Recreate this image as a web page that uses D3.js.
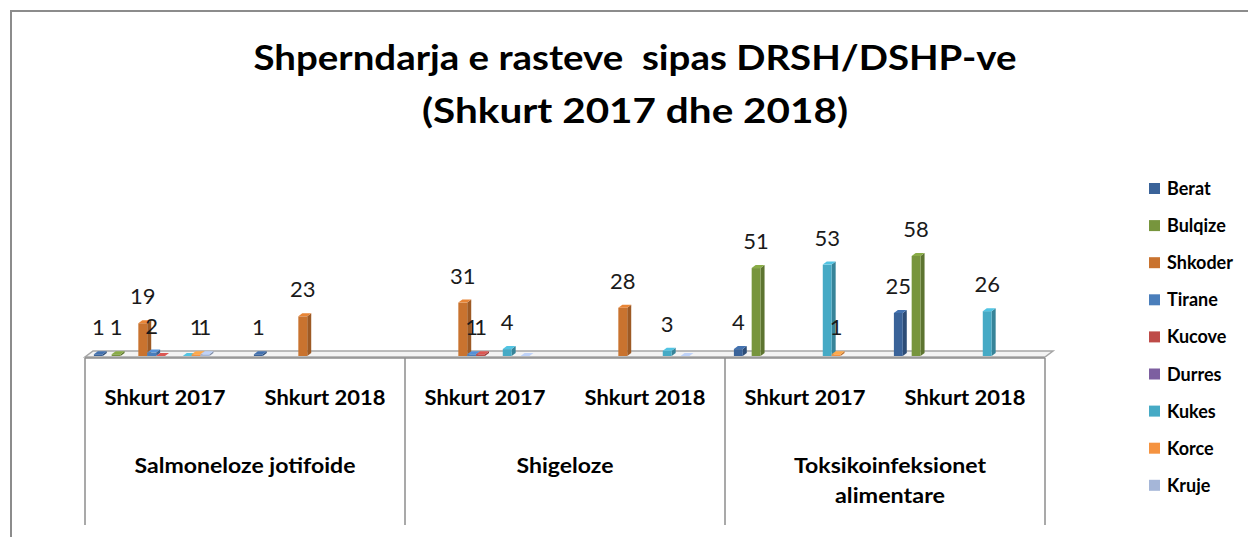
<!DOCTYPE html>
<html>
<head>
<meta charset="utf-8">
<script src="https://cdn.jsdelivr.net/npm/d3@7"></script>
<style>
  html, body { margin: 0; padding: 0; background: #fff; }
  svg { display: block; }
  text { white-space: pre; }
</style>
</head>
<body>
<svg id="chart" width="1248" height="537"></svg>
<script>
// ---------------- DATA ----------------
const titleLines = ["Shperndarja e rasteve  sipas DRSH/DSHP-ve", "(Shkurt 2017 dhe 2018)"];
const diseases = ["Salmoneloze jotifoide", "Shigeloze", "Toksikoinfeksionet alimentare"];
const periods = ["Shkurt 2017", "Shkurt 2018"];
const seriesNames = ["Berat", "Bulqize", "Shkoder", "Tirane", "Kucove", "Durres", "Kukes", "Korce", "Kruje"];
const seriesColors = ["#3A6399", "#77953D", "#C9732F", "#4A7EBB", "#BE4B48", "#7D5FA0", "#46AAC5", "#F59340", "#A5B6D8"];
// values per sub-category: [Salm 2017, Salm 2018, Shig 2017, Shig 2018, Toks 2017, Toks 2018]; null = no bar
const Berat   = [1,    1,    null, null, 4,    25];
const Bulqize = [1,    null, null, null, 51,   58];
const Shkoder = [19,   23,   31,   28,   null, null];
const Tirane  = [2,    null, 1,    null, null, null];
const Kucove  = [0,    null, 1,    null, null, null];
const Durres  = [null, null, null, null, null, null];
const Kukes   = [0,    null, 4,    3,    53,   26];
const Korce   = [1,    null, null, null, 1,    null];
const Kruje   = [1,    null, 0,    0,    null, null];
const seriesValues = [Berat, Bulqize, Shkoder, Tirane, Kucove, Durres, Kukes, Korce, Kruje];
// order of slots inside each cluster (empty slots = series not shown in legend)
const slotOrder = ["s0", "Berat", "s2", "Bulqize", "s4", "s5", "Shkoder", "Tirane", "Kucove", "Durres", "s10", "Kukes", "Korce", "Kruje", "s14", "s15", "s16", "s17"];

// ---------------- LAYOUT ----------------
const svg = d3.select("#chart");
const FONT = "Lato, 'Open Sans', sans-serif";
const left = 85, right = 1045, base = 356;
const subKeys = [];
diseases.forEach(d => periods.forEach(p => subKeys.push(d + "|" + p)));

const x = d3.scaleBand().domain(subKeys).range([left, right]).padding(0);
const inner = d3.scaleBand().domain(slotOrder).range([0, x.bandwidth()]).padding(0);
const xd = d3.scaleBand().domain(diseases).range([left, right]).padding(0);
const y = d3.scaleLinear().domain([0, 58]).range([base, 256]);
const color = d3.scaleOrdinal().domain(seriesNames).range(seriesColors);

// frame
svg.append("rect").attr("x", 11).attr("y", 11).attr("width", 1260).attr("height", 560)
  .attr("fill", "none").attr("stroke", "#8c8c8c").attr("stroke-width", 2);

// title
const titleBaselines = [70, 123];
const titleWidths = [763, 426];
titleLines.forEach((t, i) => {
  svg.append("text").attr("x", 635).attr("y", titleBaselines[i])
    .attr("text-anchor", "middle").attr("font-family", FONT).attr("font-weight", "bold")
    .attr("font-size", 34).attr("fill", "#000")
    .attr("textLength", titleWidths[i]).attr("lengthAdjust", "spacingAndGlyphs")
    .text(t);
});

// floor (3D)
const dx = 8, dy = 6;
svg.append("polygon")
  .attr("points", [[left, base + 1], [right, base + 1], [right + dx, base + 1 - dy], [left + dx, base + 1 - dy]].map(p => p.join(",")).join(" "))
  .attr("fill", "#f3f3f3").attr("stroke", "#a6a6a6").attr("stroke-width", 1.5);

// category table lines
const g = svg.append("g");
g.append("line").attr("x1", left).attr("x2", right).attr("y1", base + 2).attr("y2", base + 2)
  .attr("stroke", "#8c8c8c").attr("stroke-width", 1.5);
g.selectAll("line.v").data(xd.domain().map(d => xd(d)).concat([right]))
  .enter().append("line").attr("class", "v")
  .attr("x1", d => d).attr("x2", d => d).attr("y1", base + 2).attr("y2", 525)
  .attr("stroke", "#8c8c8c").attr("stroke-width", 1.5);

// period labels
svg.selectAll("text.period").data(subKeys).enter().append("text").attr("class", "period")
  .attr("x", d => x(d) + x.bandwidth() / 2).attr("y", 405)
  .attr("text-anchor", "middle").attr("font-family", FONT).attr("font-weight", "bold")
  .attr("font-size", 20).attr("textLength", 121).attr("lengthAdjust", "spacingAndGlyphs")
  .text(d => d.split("|")[1]);

// disease labels (wrapped like Excel)
const diseaseLines = {
  "Salmoneloze jotifoide": [["Salmoneloze jotifoide", 221]],
  "Shigeloze": [["Shigeloze", 97]],
  "Toksikoinfeksionet alimentare": [["Toksikoinfeksionet", 192], ["alimentare", 110]]
};
diseases.forEach(d => {
  const lines = diseaseLines[d];
  lines.forEach((ln, i) => {
    svg.append("text").attr("x", xd(d) + xd.bandwidth() / 2 + (lines.length > 1 ? 5 : 0))
      .attr("y", 473 + i * 30).attr("text-anchor", "middle")
      .attr("font-family", FONT).attr("font-weight", "bold").attr("font-size", 20)
      .attr("textLength", ln[1]).attr("lengthAdjust", "spacingAndGlyphs").text(ln[0]);
  });
});

// bars
const bdx = 4, bdy = 3;
const bars = [];
seriesNames.forEach((s, si) => {
  seriesValues[si].forEach((v, gi) => {
    if (v !== null) bars.push({ series: s, key: subKeys[gi], value: v });
  });
});
const barG = svg.append("g");
bars.forEach(b => {
  const c = d3.color(color(b.series));
  const x0 = x(b.key) + inner(b.series);
  const w = inner.bandwidth();
  const yt = y(b.value);
  const gb = barG.append("g");
  gb.append("polygon")
    .attr("points", [[x0 + w, yt], [x0 + w + bdx, yt - bdy], [x0 + w + bdx, base - bdy], [x0 + w, base]].map(p => p.join(",")).join(" "))
    .attr("fill", c.darker(0.7));
  if (b.value > 0) {
    gb.append("rect").attr("x", x0).attr("y", yt).attr("width", w).attr("height", base - yt)
      .attr("fill", c);
  }
  gb.append("polygon")
    .attr("points", [[x0, yt], [x0 + bdx, yt - bdy], [x0 + w + bdx, yt - bdy], [x0 + w, yt]].map(p => p.join(",")).join(" "))
    .attr("fill", c.brighter(0.4));
});

// value labels (zeros hidden)
svg.selectAll("text.val").data(bars.filter(b => b.value > 0)).enter().append("text").attr("class", "val")
  .attr("x", b => x(b.key) + inner(b.series) + inner.bandwidth() / 2)
  .attr("y", b => y(b.value) - 19)
  .attr("text-anchor", "middle").attr("font-family", FONT).attr("font-size", 22).attr("fill", "#1a1a1a")
  .text(b => b.value);

// legend
const lg = svg.append("g");
seriesNames.forEach((s, i) => {
  const cy = 189 + i * 37.1;
  lg.append("rect").attr("x", 1149).attr("y", cy - 6).attr("width", 11).attr("height", 11).attr("fill", color(s));
  lg.append("text").attr("x", 1167).attr("y", cy + 6).attr("font-family", FONT)
    .attr("font-weight", "bold").attr("font-size", 18).attr("fill", "#000").text(s);
});
</script>
</body>
</html>
